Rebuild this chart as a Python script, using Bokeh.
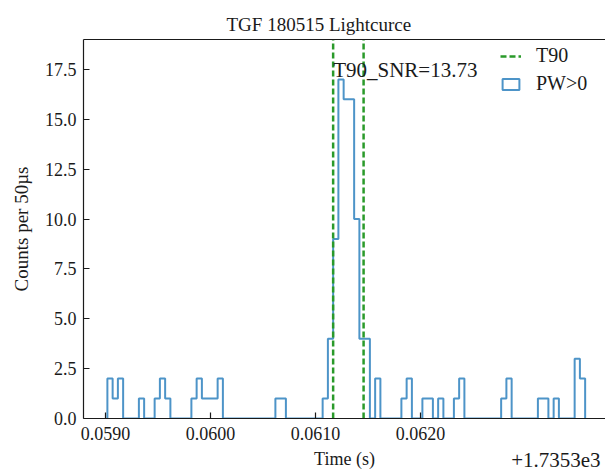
import numpy as np
from bokeh.plotting import figure
from bokeh.models import (Range1d, FixedTicker, PrintfTickFormatter, LinearAxis,
                          Legend, LegendItem, Title)
from bokeh.core.properties import value
from bokeh.embed import file_html
from bokeh.resources import INLINE

# TGF 180515 light curve, times in seconds relative to 1735.3 s
title_text = "TGF 180515 Lightcurce"
offset_text = "+1.7353e3"
bin_start = 0.059018          # left edge of the first bin
bin_width = 50e-6             # 50 µs bins
counts = [2, 1, 2, 0, 0, 0, 1, 0, 0, 1,
          2, 1, 0, 0, 0, 0, 1, 2, 1, 1,
          1, 2, 0, 0, 0, 0, 0, 0, 0, 0,
          0, 0, 1, 1, 0, 0, 0, 0, 0, 0,
          0, 1, 4, 9, 17, 16, 16, 10, 4, 4,
          0, 2, 0, 0, 0, 0, 1, 2, 0, 0,
          1, 1, 0, 1, 0, 0, 1, 2, 0, 0,
          0, 0, 0, 0, 0, 1, 2, 0, 0, 0,
          0, 0, 1, 1, 0, 1, 0, 0, 0, 3,
          2]
t90_bounds = [0.061168, 0.061458]
snr_label = "T90_SNR=13.73"
x_ticks = [0.0590, 0.0600, 0.0610, 0.0620]
y_ticks = [0.0, 2.5, 5.0, 7.5, 10.0, 12.5, 15.0, 17.5]
y_top = 19.0
offset_anchor = 0.063289      # where the offset note sits on the time axis

SERIF = "Liberation Serif"
BLUE = "#4d94c8"
GREEN = "#2a9a2a"
INK = "#1a1a1a"

n = len(counts)
edges = bin_start + bin_width * np.arange(n + 1)
span = edges[-1] - edges[0]
x_lo = edges[0] - 0.05 * span
x_hi = edges[-1] + 0.0426 * span   # page ends just before the right margin

# outline of the step histogram: up from the baseline, across the bins, back down
step_x = np.concatenate([[edges[0]], edges])
step_y = np.concatenate([[0], counts, [0]])

p = figure(width=605, height=471, output_backend="svg", toolbar_location=None,
           x_range=Range1d(x_lo, x_hi), y_range=Range1d(0, y_top),
           min_border_left=83, min_border_right=0, min_border_top=39,
           min_border_bottom=53, y_axis_label="Counts per 50µs")
p.title = Title(text=title_text, align="left", offset=143, text_font=SERIF,
                text_font_size="19px", text_font_style="normal", text_color=INK)
p.background_fill_color = "white"
p.border_fill_color = "white"
p.outline_line_color = None
p.xgrid.visible = False
p.ygrid.visible = False

p.step(step_x, step_y, mode="after", line_color=BLUE, line_width=2)

# T90 window: vertical dashed lines from the baseline upwards
t90_lines = p.ray(x=t90_bounds, y=[0, 0], length=0, angle=np.pi / 2,
                  line_color=GREEN, line_width=2.5, line_dash="6 3")

p.text(x=[t90_bounds[0]], y=[max(counts)], text=[snr_label],
       text_font=value(SERIF), text_font_size="21px", text_color=INK,
       text_align="left", text_baseline="bottom", y_offset=3)

# box-shaped legend entry for the histogram
pw_handle = p.quad(left=[edges[0]], right=[edges[1]], top=[counts[0]],
                   bottom=[0], fill_color=None, line_color=BLUE, line_width=2)
pw_handle.visible = False

legend = Legend(items=[LegendItem(label="T90", renderers=[t90_lines]),
                       LegendItem(label="PW>0", renderers=[pw_handle])],
                location=(417, 323), border_line_color=None,
                background_fill_alpha=0, label_text_font=SERIF,
                label_text_font_size="20px", label_text_color=INK,
                glyph_width=21, glyph_height=14, label_height=22,
                label_standoff=15, spacing=5, padding=0, margin=0,
                inactive_fill_alpha=0)
p.add_layout(legend)


def style(ax, label_px):
    ax.axis_line_color = INK
    ax.axis_line_width = 1.2
    ax.major_tick_line_color = INK
    ax.major_tick_line_width = 1.2
    ax.major_tick_in = 6
    ax.major_tick_out = 0
    ax.minor_tick_line_color = None
    ax.major_label_text_font = SERIF
    ax.major_label_text_font_size = "18px"
    ax.major_label_text_color = INK
    ax.axis_label_text_font = SERIF
    ax.axis_label_text_font_size = label_px
    ax.axis_label_text_font_style = "normal"
    ax.axis_label_text_color = INK


xa = p.xaxis[0]
style(xa, "18px")
xa.ticker = FixedTicker(ticks=x_ticks)
xa.formatter = PrintfTickFormatter(format="%.4f")
xa.major_label_standoff = 8

ya = p.yaxis[0]
style(ya, "19px")
ya.ticker = FixedTicker(ticks=y_ticks)
ya.formatter = PrintfTickFormatter(format="%.1f")
ya.major_label_standoff = 7
ya.axis_label_standoff = 10

# second row under the time axis: axis title and the offset of the time values
row = LinearAxis(axis_label="Time (s)", ticker=FixedTicker(ticks=[offset_anchor]),
                 major_label_overrides={offset_anchor: offset_text})
style(row, "18px")
row.axis_line_color = None
row.major_tick_line_color = None
row.major_tick_in = 0
row.major_label_text_font_size = "21px"
row.major_label_standoff = 10
row.axis_label_standoff = -21
p.add_layout(row, "below")

# top spine
top = LinearAxis(ticker=FixedTicker(ticks=[]), axis_line_color=INK,
                 axis_line_width=1.2, major_tick_line_color=None,
                 minor_tick_line_color=None, major_label_text_font_size="0px")
p.add_layout(top, "above")

open("out.html", "w").write(file_html(p, INLINE))
